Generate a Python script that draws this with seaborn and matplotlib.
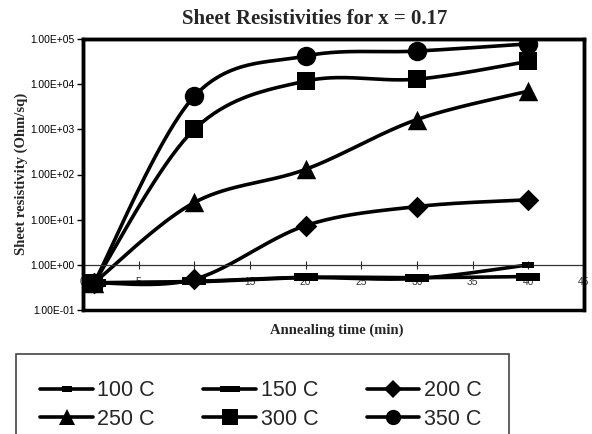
import numpy as np
import pandas as pd
import matplotlib
matplotlib.use("Agg")
import matplotlib.pyplot as plt
from matplotlib.patches import Rectangle
from matplotlib.lines import Line2D
import seaborn as sns

# ---- data ----
times = [1, 10, 20, 30, 40]
series_labels = ["100 C", "150 C", "200 C", "250 C", "300 C", "350 C"]
r100 = [0.40, 0.42, 0.52, 0.50, 1.00]
r150 = [0.40, 0.43, 0.53, 0.52, 0.55]
r200 = [0.40, 0.48, 7.4, 19.5, 27.5]
r250 = [0.40, 24.0, 130.0, 1650.0, 7000.0]
r300 = [0.40, 1000.0, 11700.0, 12900.0, 32000.0]
r350 = [0.40, 5400.0, 42000.0, 54000.0, 78000.0]
x_ticks = [0, 5, 10, 15, 20, 25, 30, 35, 40, 45]
y_ticks = [1e-1, 1e0, 1e1, 1e2, 1e3, 1e4, 1e5]
y_tick_labels = ["1.00E-01", "1.00E+00", "1.00E+01", "1.00E+02",
                 "1.00E+03", "1.00E+04", "1.00E+05"]

values = [r100, r150, r200, r250, r300, r350]

sns.set_theme(style="white")
plt.rcParams["font.family"] = ["Liberation Sans", "DejaVu Sans"]

fig = plt.figure(figsize=(5.92, 4.34), dpi=100)
ax = fig.add_axes([83 / 592, 1 - 310 / 434, (584 - 83) / 592, (310 - 39) / 434])


def smooth(xs, ys, n=40):
    """Excel-style smoothed line (Bezier through points, in screen-like log space)."""
    px = np.asarray(xs, float)
    py = np.log10(np.asarray(ys, float))
    ox, oy = [], []
    m = len(px)
    for i in range(m - 1):
        i0 = max(i - 1, 0)
        i3 = min(i + 2, m - 1)
        p1 = np.array([px[i], py[i]])
        p2 = np.array([px[i + 1], py[i + 1]])
        p0 = np.array([px[i0], py[i0]])
        p3 = np.array([px[i3], py[i3]])
        c1 = p1 + (p2 - p0) / 6.0
        c2 = p2 - (p3 - p1) / 6.0
        t = np.linspace(0, 1, n)[:, None]
        b = ((1 - t) ** 3) * p1 + 3 * ((1 - t) ** 2) * t * c1 + 3 * (1 - t) * t ** 2 * c2 + t ** 3 * p2
        if i > 0:
            b = b[1:]
        ox.extend(b[:, 0])
        oy.extend(b[:, 1])
    return np.array(ox), 10 ** np.array(oy)


rect_wide = [(-1, -0.35), (1, -0.35), (1, 0.35), (-1, 0.35)]
rect_small = [(-1, -0.55), (1, -0.55), (1, 0.55), (-1, 0.55)]
styles = [
    dict(marker=rect_small, ms=9),
    dict(marker=rect_wide, ms=17),
    dict(marker="D", ms=11),
    dict(marker="^", ms=14),
    dict(marker="s", ms=13),
    dict(marker="o", ms=14),
]
leg_styles = [
    dict(marker=rect_small, ms=7),
    dict(marker=rect_wide, ms=14),
    dict(marker="D", ms=9),
    dict(marker="^", ms=12),
    dict(marker="s", ms=11),
    dict(marker="o", ms=11),
]

lw = 2.6
for lab, vals, st in zip(series_labels, values, styles):
    sx, sy = smooth(times, vals)
    sns.lineplot(x=sx, y=sy, ax=ax, color="black", linewidth=lw, sort=False,
                 estimator=None, legend=False)
    df = pd.DataFrame({"t": times, "r": vals})
    sns.scatterplot(data=df, x="t", y="r", ax=ax, marker=st["marker"], s=st["ms"] ** 2,
                    color="black", edgecolor="black", linewidth=0, legend=False, zorder=5)

ax.set_yscale("log")
ax.set_ylim(1e-1, 1e5)
ax.set_xlim(0, 45)
ax.set_yticks(y_ticks)
ax.set_yticklabels(y_tick_labels)
ax.yaxis.set_minor_locator(matplotlib.ticker.NullLocator())
ax.set_xticks(x_ticks)
ax.set_xticklabels([str(v) for v in x_ticks])
ax.tick_params(axis="y", which="major", direction="out", length=4, width=1,
               labelsize=7.4, colors="black", pad=2, left=True)
ax.tick_params(axis="x", which="major", direction="inout", length=6, width=0.8,
               labelsize=7.4, labelcolor="#333333", pad=6, bottom=True)

# x axis crosses at y = 1
ax.spines["bottom"].set_position(("data", 1.0))
ax.spines["bottom"].set_linewidth(0.9)
ax.spines["bottom"].set_color("#333333")
for s in ["top", "right", "left"]:
    ax.spines[s].set_linewidth(2.5)
    ax.spines[s].set_color("black")
ax.add_patch(Rectangle((0, 0), 1, 1, transform=ax.transAxes, fill=False,
                       edgecolor="black", linewidth=2.5, clip_on=False, zorder=6))

ax.set_xlabel("")
ax.set_ylabel("")
fig.text(315 / 592, 1 - 19 / 434, "Sheet Resistivities for x = 0.17",
         ha="center", va="center", fontsize=15, fontweight="bold",
         family="Liberation Serif")
fig.text(337 / 592, 1 - 330 / 434, "Annealing time (min)",
         ha="center", va="center", fontsize=10.5, fontweight="bold",
         family="Liberation Serif")
fig.text(21 / 592, 1 - 174 / 434, "Sheet resistivity (Ohm/sq)",
         ha="center", va="center", rotation=90, fontsize=10.5, fontweight="bold",
         family="Liberation Serif")

# legend box
fig.patches.append(Rectangle((16 / 592, -0.05), (509 - 16) / 592, 0.05 + 1 - 354 / 434,
                             transform=fig.transFigure, fill=False,
                             edgecolor="#444444", linewidth=1.2))
handles = [Line2D([], [], color="black", linewidth=lw, marker=st["marker"],
                  markersize=st["ms"], markeredgewidth=0)
           for st in leg_styles]
# fill legend row by row (matplotlib fills column by column)
order = [0, 3, 1, 4, 2, 5]
leg = fig.legend([handles[i] for i in order], [series_labels[i] for i in order],
                 ncol=3, loc="center left",
                 bbox_to_anchor=(21 / 592, 1 - 405 / 434), frameon=False,
                 fontsize=15.5, handlelength=2.45, handletextpad=0.2,
                 columnspacing=2.25, labelspacing=0.35)

fig.savefig("out.png", dpi=100)
